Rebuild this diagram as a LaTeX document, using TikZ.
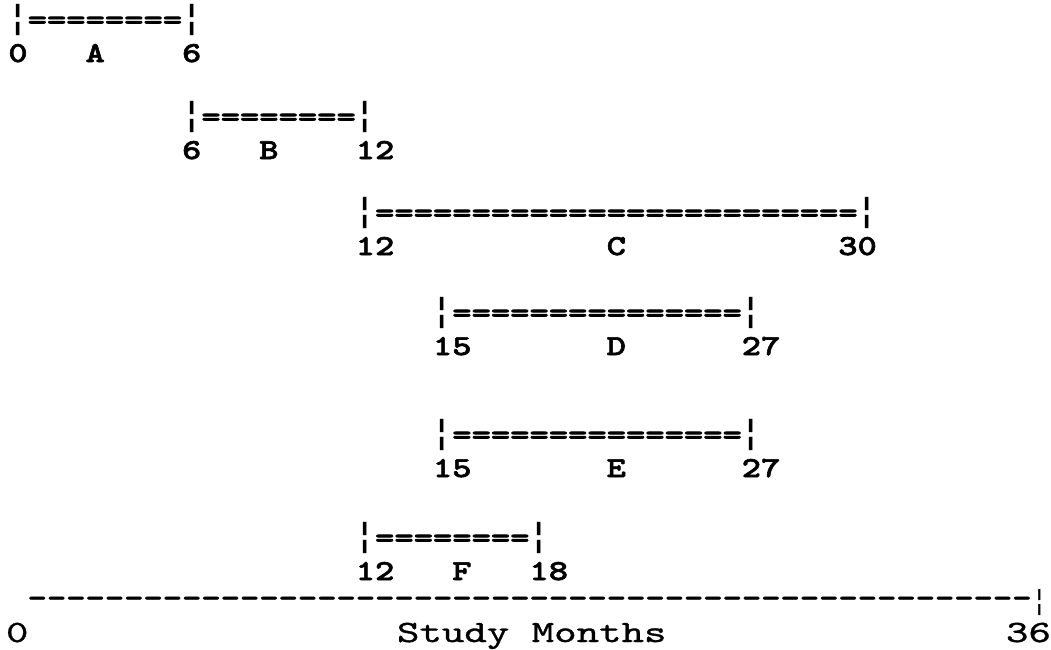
\documentclass[tikz,border=0pt]{standalone}
\usepackage{fontspec}
% typewriter faces, widened to a 19.3-unit character cell
\setmonofont{lmmonolt10-bold.otf}[FakeStretch=1.268, FakeBold=2]
\newfontfamily\tickfont{DejaVu Sans Mono}[FakeStretch=0.891]
\newfontfamily\axisfont{lmmono10-regular.otf}[FakeStretch=1.38, FakeBold=1]
% tall broken bar at the ends of each span
\newcommand\tick{{\tickfont\bfseries\fontsize{36}{36}\selectfont ¦}}
% column c starts at 8.35 + 19.3 c
\newcommand\colx[1]{8.35+19.3*#1}
\tikzset{
  bold/.style={anchor=base west, inner sep=0pt, outer sep=0pt,
    font=\ttfamily\fontsize{29}{29}\selectfont},
  plain/.style={anchor=base west, inner sep=0pt, outer sep=0pt,
    font=\axisfont\fontsize{31}{31}\selectfont},
}
\begin{document}
\begin{tikzpicture}[x=1pt,y=-1pt]
\useasboundingbox (0,0) rectangle (1051,649);
\fill[white] (0,0) rectangle (1051,649);

% A: months 0-6
\node[bold] (barA) at ({\colx{0}},29) {\tick========\tick};
\node[bold] (a0) at ({\colx{0}},62) {0};
\node[bold] (aL) at ({\colx{4}},62) {A};
\node[bold] (a1) at ({\colx{9}},62) {6};

% B: months 6-12
\node[bold] (barB) at ({\colx{9}},126) {\tick========\tick};
\node[bold] (b0) at ({\colx{9}},159) {6};
\node[bold] (bL) at ({\colx{13}},159) {B};
\node[bold] (b1) at ({\colx{18}},159) {12};

% C: months 12-30
\node[bold] (barC) at ({\colx{18}},222) {\tick=========================\tick};
\node[bold] (c0) at ({\colx{18}},255) {12};
\node[bold] (cL) at ({\colx{31}},255) {C};
\node[bold] (c1) at ({\colx{43}},255) {30};

% D: months 15-27
\node[bold] (barD) at ({\colx{22}},322) {\tick===============\tick};
\node[bold] (d0) at ({\colx{22}},355) {15};
\node[bold] (dL) at ({\colx{31}},355) {D};
\node[bold] (d1) at ({\colx{38}},355) {27};

% E: months 15-27
\node[bold] (barE) at ({\colx{22}},444) {\tick===============\tick};
\node[bold] (e0) at ({\colx{22}},477) {15};
\node[bold] (eL) at ({\colx{31}},477) {E};
\node[bold] (e1) at ({\colx{38}},477) {27};

% F: months 12-18
\node[bold] (barF) at ({\colx{18}},547) {\tick========\tick};
\node[bold] (f0) at ({\colx{18}},580) {12};
\node[bold] (fL) at ({\colx{23}},580) {F};
\node[bold] (f1) at ({\colx{27}},580) {18};

% time axis
\node[bold] (axis) at ({\colx{1}},607)
  {----------------------------------------------------};
\node[anchor=base west, inner sep=0pt, font=\tickfont\fontsize{30}{30}\selectfont]
  (axisEnd) at ({\colx{53}},610) {¦};
\node[plain] (t0) at (6,642) {0};
\node[plain] (title) at (397,642) {Study Months};
\node[plain] (t1) at (1006,642) {36};
\end{tikzpicture}
\end{document}
